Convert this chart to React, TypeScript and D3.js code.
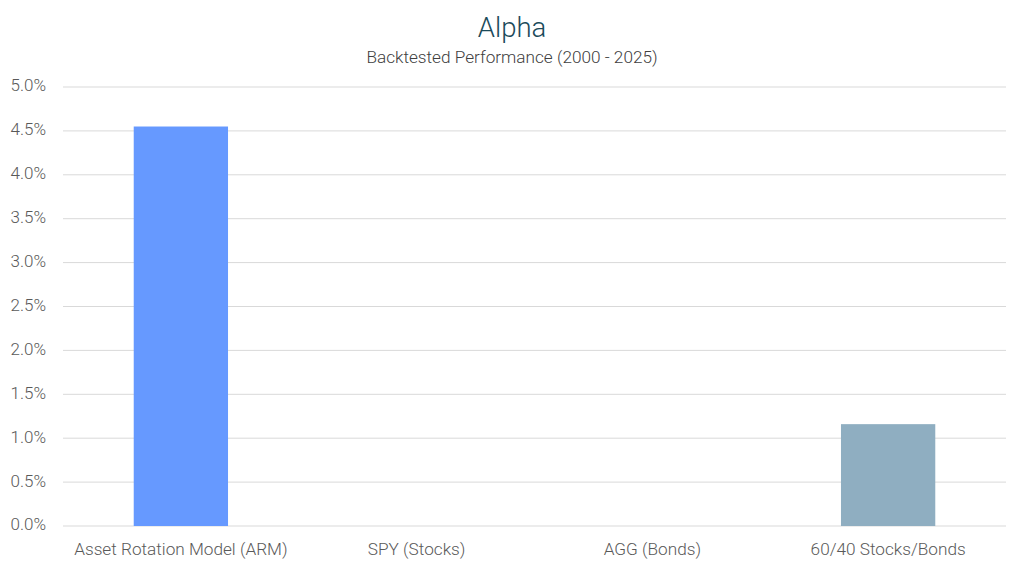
import * as d3 from "d3";

const categories = [
  "Asset Rotation Model (ARM)",
  "SPY (Stocks)",
  "AGG (Bonds)",
  "60/40 Stocks/Bonds",
];
const alphaValues = [0.0455, 0, 0, 0.0116];
const barColors = ["#6699FF", "#6699FF", "#6699FF", "#8FAEC1"];
const yTickValues = [0, 0.005, 0.01, 0.015, 0.02, 0.025, 0.03, 0.035, 0.04, 0.045, 0.05];

const width = 1024;
const height = 569;
const margin = { top: 87, right: 18, bottom: 43, left: 63 };

export default function App() {
  const innerWidth = width - margin.left - margin.right;
  const innerHeight = height - margin.top - margin.bottom;

  const xScale = d3
    .scaleBand<string>()
    .domain(categories)
    .range([0, innerWidth])
    .paddingInner(0.6)
    .paddingOuter(0.3);

  const yScale = d3.scaleLinear().domain([0, 0.05]).range([innerHeight, 0]);
  const fmt = d3.format(".1%");
  const font = "Roboto, 'Noto Sans', sans-serif";

  return (
    <svg
      width={width}
      height={height}
      style={{ position: "absolute", left: 0, top: 0, background: "#fff" }}
      fontFamily={font}
    >
      {/* Title */}
      <text x={512} y={37} textAnchor="middle" fontSize={27.5} fontWeight={300} fill="#1B4A5A">
        Alpha
      </text>
      <text x={512} y={63} textAnchor="middle" fontSize={17.2} fontWeight={300} fill="#404040">
        Backtested Performance (2000 - 2025)
      </text>

      <g transform={`translate(${margin.left}, ${margin.top})`}>
        {/* Grid lines */}
        {yTickValues.map((t) => (
          <g key={t} transform={`translate(0, ${yScale(t)})`}>
            <line x1={0} x2={innerWidth} stroke="#D9D9D9" strokeWidth={1} />
            <text
              x={-17}
              textAnchor="end"
              dominantBaseline="middle"
              fontSize={17}
              fontWeight={300}
              fill="#595959"
            >
              {fmt(t)}
            </text>
          </g>
        ))}

        {/* Bars */}
        {categories.map((c, i) => (
          <rect
            key={c}
            x={xScale(c)}
            y={yScale(alphaValues[i])}
            width={xScale.bandwidth()}
            height={innerHeight - yScale(alphaValues[i])}
            fill={barColors[i]}
          />
        ))}

        {/* X labels */}
        {categories.map((c) => (
          <text
            key={c}
            x={(xScale(c) ?? 0) + xScale.bandwidth() / 2}
            y={innerHeight + 29}
            textAnchor="middle"
            fontSize={17.2}
            fontWeight={300}
            fill="#595959"
          >
            {c}
          </text>
        ))}
      </g>
    </svg>
  );
}
